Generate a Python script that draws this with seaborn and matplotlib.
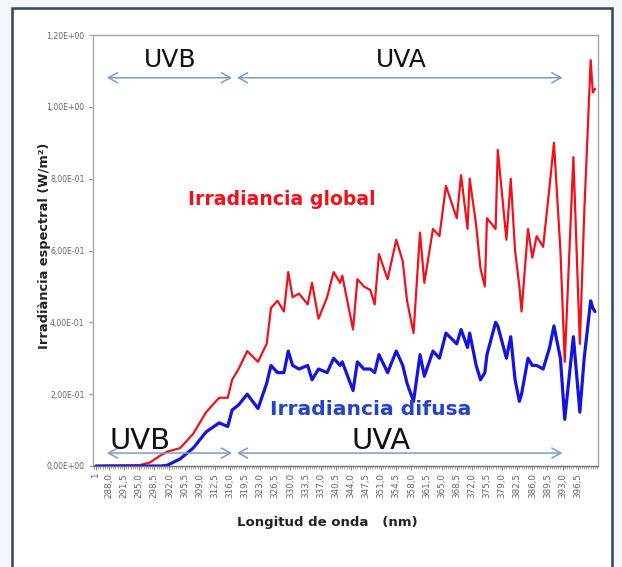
import matplotlib
matplotlib.use("Agg")
import matplotlib.pyplot as plt
from matplotlib.patches import Rectangle
from matplotlib.ticker import MultipleLocator
import pandas as pd
import seaborn as sns

# Spectral irradiance (W/m2) against wavelength (nm)
wavelength_nm = [
    285.0, 295.0, 297.5, 300.0, 301.5, 304.5, 307.5, 310.5, 313.5, 315.5,
    316.5, 318.0, 320.0, 322.5, 324.5, 325.5, 327.0, 328.5, 329.5, 330.5,
    332.0, 334.0, 335.0, 336.5, 338.5, 340.0, 341.5, 342.0, 344.5, 345.5,
    347.0, 348.5, 349.5, 350.5, 352.5, 354.5, 356.0, 357.0, 358.5, 360.0,
    361.0, 363.0, 364.5, 366.0, 368.5, 369.5, 371.0, 371.5, 373.0, 374.0,
    375.0, 375.5, 377.5, 378.0, 380.0, 381.0, 382.0, 383.0, 383.5, 385.0,
    386.0, 387.0, 388.5, 390.0, 391.0, 392.5, 393.5, 395.5, 397.0, 398.0,
    399.5, 400.0, 400.5,
]
irradiancia_global = [
    0.000, 0.002, 0.010, 0.030, 0.040, 0.050, 0.090, 0.150, 0.190, 0.190,
    0.240, 0.270, 0.320, 0.290, 0.340, 0.440, 0.460, 0.430, 0.540, 0.470,
    0.480, 0.450, 0.510, 0.410, 0.470, 0.540, 0.510, 0.530, 0.380, 0.520,
    0.500, 0.490, 0.450, 0.590, 0.520, 0.630, 0.570, 0.460, 0.370, 0.650,
    0.510, 0.660, 0.640, 0.780, 0.690, 0.810, 0.660, 0.800, 0.670, 0.550,
    0.500, 0.690, 0.660, 0.880, 0.630, 0.800, 0.600, 0.500, 0.430, 0.660,
    0.580, 0.640, 0.610, 0.780, 0.900, 0.600, 0.290, 0.860, 0.340, 0.700,
    1.130, 1.040, 1.050,
]
irradiancia_difusa = [
    0.000, 0.000, 0.000, 0.000, 0.002, 0.020, 0.050, 0.095, 0.120, 0.110,
    0.156, 0.170, 0.200, 0.160, 0.230, 0.280, 0.260, 0.260, 0.320, 0.280,
    0.270, 0.280, 0.240, 0.270, 0.260, 0.300, 0.280, 0.290, 0.210, 0.290,
    0.270, 0.270, 0.260, 0.310, 0.260, 0.320, 0.280, 0.230, 0.180, 0.310,
    0.250, 0.320, 0.300, 0.370, 0.340, 0.380, 0.330, 0.370, 0.280, 0.240,
    0.260, 0.310, 0.400, 0.390, 0.300, 0.360, 0.240, 0.180, 0.200, 0.300,
    0.280, 0.280, 0.270, 0.330, 0.390, 0.300, 0.130, 0.360, 0.150, 0.300,
    0.460, 0.440, 0.430,
]

# Category-style tick labels along the wavelength axis
tick_positions = [
    285.0, 288.0, 291.5, 295.0, 298.5, 302.0, 305.5, 309.0, 312.5, 316.0,
    319.5, 323.0, 326.5, 330.0, 333.5, 337.0, 340.5, 344.0, 347.5, 351.0,
    354.5, 358.0, 361.5, 365.0, 368.5, 372.0, 375.5, 379.0, 382.5, 386.0,
    389.5, 393.0, 396.5,
]
tick_labels = [
    "1", "288,0", "291,5", "295,0", "298,5", "302,0", "305,5", "309,0",
    "312,5", "316,0", "319,5", "323,0", "326,5", "330,0", "333,5", "337,0",
    "340,5", "344,0", "347,5", "351,0", "354,5", "358,0", "361,5", "365,0",
    "368,5", "372,0", "375,5", "379,0", "382,5", "386,0", "389,5", "393,0",
    "396,5",
]
y_ticks = [0.0, 0.2, 0.4, 0.6, 0.8, 1.0, 1.2]
y_tick_labels = ["0,00E+00", "2,00E-01", "4,00E-01", "6,00E-01",
                 "8,00E-01", "1,00E+00", "1,20E+00"]

RED = "#f2111a"
BLUE = "#1414e0"
ARROW = "#7c9bcb"

sns.set_style("white")
plt.rcParams["font.family"] = ["DejaVu Sans"]

df = pd.DataFrame({
    "nm": wavelength_nm,
    "global": irradiancia_global,
    "difusa": irradiancia_difusa,
})

fig = plt.figure(figsize=(6.22, 5.67), dpi=100)
fig.patch.set_facecolor("#f3f7fa")

# Slide-style outer frame, kept behind the axes
frame = Rectangle((12 / 622, -0.05), 600 / 622, 1 - 8 / 567 + 0.05,
                  transform=fig.transFigure, facecolor="white",
                  edgecolor="#34425f", linewidth=1.8, zorder=-10)
fig.patches.append(frame)

ax = fig.add_axes([93 / 622, 1 - 466 / 567, 505 / 622, 431 / 567])
ax.set_zorder(1)
ax.set_facecolor("white")

sns.lineplot(data=df, x="nm", y="global", ax=ax, color=RED, linewidth=1.6)
sns.lineplot(data=df, x="nm", y="difusa", ax=ax, color=BLUE, linewidth=2.3)

ax.set_xlim(284.3, 401.2)
ax.set_ylim(0, 1.2)

ax.set_xticks(tick_positions)
ax.set_xticklabels(tick_labels, rotation=90, fontsize=6.3, color="#666666")
ax.xaxis.set_minor_locator(MultipleLocator(0.5))
ax.tick_params(axis="x", which="major", bottom=True, length=3, width=0.6, color="#777777", pad=2)
ax.tick_params(axis="x", which="minor", bottom=True, length=2.5, width=0.5, color="#888888")

ax.set_yticks(y_ticks)
ax.set_yticklabels(y_tick_labels, fontsize=5.6, color="#666666")
ax.tick_params(axis="y", which="major", left=True, length=3, width=0.6, color="#888888", pad=3)

for side in ["top", "right", "left"]:
    ax.spines[side].set_color("#a6a6a6")
    ax.spines[side].set_linewidth(1.0)
ax.spines["bottom"].set_color("#6e6e6e")
ax.spines["bottom"].set_linewidth(1.0)

ax.set_xlabel("Longitud de onda   (nm)", fontsize=9.5, fontweight="bold", color="#222222")
ax.xaxis.set_label_coords(0.463, -0.115)
ax.set_ylabel("Irradiància espectral (W/m²)", fontsize=9.4, fontweight="bold", color="#222222")
ax.yaxis.set_label_coords(-0.083, 0.51)

# Series captions
ax.text(306.3, 0.741, "Irradiancia global", color=RED, fontsize=13.6,
        fontweight="bold", ha="left", va="center")
ax.text(325.3, 0.156, "Irradiancia difusa", color="#2443c8", fontsize=14.6,
        fontweight="bold", ha="left", va="center")

# UVB / UVA band markers (top and bottom)
arrow_props = dict(arrowstyle="<->,head_length=0.55,head_width=0.3",
                   color=ARROW, lw=1.1, mutation_scale=12, shrinkA=0, shrinkB=0)
for y_arrow, y_text, size, uvb_x, uva_x in [(1.081, 1.131, 18, 302.1, 355.6),
                                            (0.036, 0.070, 21, 295.2, 351.0)]:
    ax.annotate("", xy=(287.5, y_arrow), xytext=(316.5, y_arrow),
                arrowprops=arrow_props, annotation_clip=False)
    ax.annotate("", xy=(317.6, y_arrow), xytext=(393.0, y_arrow),
                arrowprops=arrow_props, annotation_clip=False)
    ax.text(uvb_x, y_text, "UVB", fontsize=size, color="#111111",
            ha="center", va="center")
    ax.text(uva_x, y_text, "UVA", fontsize=size, color="#111111",
            ha="center", va="center")

fig.savefig("out.png", dpi=100, facecolor=fig.get_facecolor())
